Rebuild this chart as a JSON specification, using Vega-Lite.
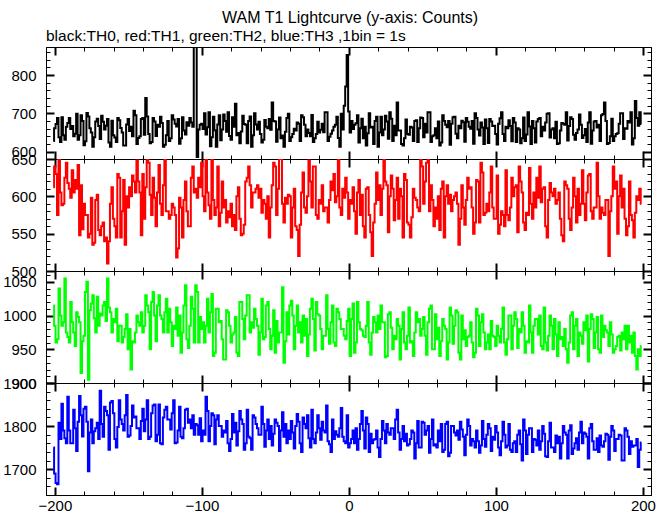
{
"$schema": "https://vega.github.io/schema/vega-lite/v6.json",
"background": "white",
"padding": {"left": 2, "top": 9, "right": 15, "bottom": 0},
"title": {"text": "WAM T1 Lightcurve (y-axis: Counts)", "anchor": "middle", "font": "Liberation Sans", "fontSize": 16, "fontWeight": "normal", "color": "black", "offset": 3, "dx": 21},
"spacing": 0,
"bounds": "flush",
"config": {"view": {"stroke": "black", "strokeWidth": 1}, "axis": {"labelFont": "Liberation Sans", "labelFontSize": 15, "labelColor": "black", "domainColor": "black", "tickColor": "black", "grid": false, "labelFlush": false, "labelOverlap": false, "format": "d"}},
"data": {"name": "lc"},
"datasets": {"lc": [
{"t":-201,"a":628,"b":612,"c":1015,"d":1750},{"t":-200,"a":661,"b":640,"c":985,"d":1690},{"t":-199,"a":672,"b":630,"c":960,"d":1668},{"t":-198,"a":688,"b":575,"c":965,"d":1665},{"t":-197,"a":638,"b":655,"c":1040,"d":1808},{"t":-196,"a":625,"b":605,"c":1000,"d":1770},{"t":-195,"a":690,"b":588,"c":985,"d":1852},{"t":-194,"a":643,"b":590,"c":990,"d":1790},{"t":-193,"a":631,"b":625,"c":1055,"d":1772},{"t":-192,"a":665,"b":645,"c":975,"d":1760},
{"t":-191,"a":675,"b":618,"c":968,"d":1868},{"t":-190,"a":688,"b":610,"c":960,"d":1790},{"t":-189,"a":659,"b":598,"c":1020,"d":1760},{"t":-188,"a":667,"b":635,"c":990,"d":1760},{"t":-187,"a":640,"b":605,"c":975,"d":1838},{"t":-186,"a":647,"b":622,"c":955,"d":1795},{"t":-185,"a":699,"b":610,"c":1005,"d":1742},{"t":-184,"a":631,"b":642,"c":998,"d":1810},{"t":-183,"a":643,"b":548,"c":990,"d":1870},{"t":-182,"a":695,"b":615,"c":915,"d":1825},
{"t":-181,"a":680,"b":556,"c":962,"d":1776},{"t":-180,"a":617,"b":590,"c":970,"d":1840},{"t":-179,"a":627,"b":575,"c":1035,"d":1845},{"t":-178,"a":701,"b":575,"c":1050,"d":1810},{"t":-177,"a":692,"b":545,"c":905,"d":1695},{"t":-176,"a":661,"b":550,"c":1008,"d":1785},{"t":-175,"a":650,"b":598,"c":1018,"d":1815},{"t":-174,"a":613,"b":535,"c":1030,"d":1760},{"t":-173,"a":638,"b":538,"c":996,"d":1788},{"t":-172,"a":679,"b":595,"c":975,"d":1795},
{"t":-171,"a":686,"b":602,"c":1028,"d":1808},{"t":-170,"a":667,"b":555,"c":985,"d":1770},{"t":-169,"a":633,"b":548,"c":1003,"d":1882},{"t":-168,"a":694,"b":560,"c":1000,"d":1805},{"t":-167,"a":678,"b":565,"c":1015,"d":1775},{"t":-166,"a":658,"b":540,"c":1020,"d":1845},{"t":-165,"a":668,"b":545,"c":992,"d":1835},{"t":-164,"a":685,"b":510,"c":1055,"d":1825},{"t":-163,"a":624,"b":540,"c":1012,"d":1745},{"t":-162,"a":613,"b":590,"c":1005,"d":1855},
{"t":-161,"a":681,"b":612,"c":975,"d":1858},{"t":-160,"a":643,"b":570,"c":995,"d":1830},{"t":-159,"a":637,"b":560,"c":990,"d":1770},{"t":-158,"a":625,"b":545,"c":1010,"d":1750},{"t":-157,"a":688,"b":630,"c":962,"d":1798},{"t":-156,"a":682,"b":625,"c":985,"d":1860},{"t":-155,"a":662,"b":545,"c":985,"d":1815},{"t":-154,"a":650,"b":580,"c":960,"d":1805},{"t":-153,"a":616,"b":622,"c":968,"d":1790},{"t":-152,"a":616,"b":535,"c":980,"d":1825},
{"t":-151,"a":671,"b":600,"c":1002,"d":1872},{"t":-150,"a":685,"b":585,"c":950,"d":1775},{"t":-149,"a":654,"b":612,"c":980,"d":1778},{"t":-148,"a":665,"b":600,"c":920,"d":1800},{"t":-147,"a":640,"b":628,"c":962,"d":1848},{"t":-146,"a":707,"b":620,"c":960,"d":1820},{"t":-145,"a":695,"b":605,"c":975,"d":1822},{"t":-144,"a":620,"b":648,"c":1000,"d":1795},{"t":-143,"a":636,"b":620,"c":990,"d":1795},{"t":-142,"a":640,"b":605,"c":985,"d":1770},
{"t":-141,"a":685,"b":548,"c":1005,"d":1812},{"t":-140,"a":688,"b":630,"c":975,"d":1840},{"t":-139,"a":644,"b":570,"c":985,"d":1788},{"t":-138,"a":740,"b":612,"c":1030,"d":1815},{"t":-137,"a":692,"b":655,"c":1015,"d":1860},{"t":-136,"a":646,"b":645,"c":1005,"d":1770},{"t":-135,"a":622,"b":602,"c":950,"d":1775},{"t":-134,"a":625,"b":575,"c":1020,"d":1830},{"t":-133,"a":688,"b":625,"c":1035,"d":1848},{"t":-132,"a":679,"b":598,"c":1000,"d":1850},
{"t":-131,"a":641,"b":560,"c":962,"d":1765},{"t":-130,"a":670,"b":605,"c":1015,"d":1780},{"t":-129,"a":665,"b":642,"c":1030,"d":1850},{"t":-128,"a":691,"b":590,"c":1000,"d":1760},{"t":-127,"a":675,"b":575,"c":995,"d":1758},{"t":-126,"a":613,"b":615,"c":975,"d":1820},{"t":-125,"a":618,"b":650,"c":1005,"d":1838},{"t":-124,"a":643,"b":580,"c":1025,"d":1845},{"t":-123,"a":680,"b":580,"c":975,"d":1815},{"t":-122,"a":628,"b":570,"c":1010,"d":1815},
{"t":-121,"a":635,"b":575,"c":990,"d":1792},{"t":-120,"a":695,"b":590,"c":955,"d":1830},{"t":-119,"a":684,"b":585,"c":985,"d":1860},{"t":-118,"a":673,"b":575,"c":980,"d":1760},{"t":-117,"a":666,"b":518,"c":1012,"d":1762},{"t":-116,"a":685,"b":530,"c":970,"d":1790},{"t":-115,"a":621,"b":598,"c":1000,"d":1845},{"t":-114,"a":635,"b":585,"c":945,"d":1775},{"t":-113,"a":690,"b":545,"c":975,"d":1772},{"t":-112,"a":655,"b":595,"c":1015,"d":1795},
{"t":-111,"a":645,"b":620,"c":1045,"d":1838},{"t":-110,"a":677,"b":580,"c":965,"d":1840},{"t":-109,"a":668,"b":560,"c":952,"d":1808},{"t":-108,"a":688,"b":560,"c":985,"d":1815},{"t":-107,"a":676,"b":625,"c":1028,"d":1795},{"t":-106,"a":665,"b":640,"c":1010,"d":1825},{"t":-105,"a":885,"b":605,"c":960,"d":1780},{"t":-104,"a":878,"b":610,"c":1045,"d":1805},{"t":-103,"a":586,"b":598,"c":1035,"d":1802},{"t":-102,"a":658,"b":625,"c":960,"d":1780},
{"t":-101,"a":670,"b":612,"c":998,"d":1818},{"t":-100,"a":673,"b":645,"c":980,"d":1765},{"t":-99,"a":659,"b":600,"c":990,"d":1790},{"t":-98,"a":700,"b":580,"c":960,"d":1780},{"t":-97,"a":645,"b":655,"c":985,"d":1868},{"t":-96,"a":664,"b":605,"c":1025,"d":1835},{"t":-95,"a":703,"b":588,"c":975,"d":1765},{"t":-94,"a":614,"b":570,"c":1005,"d":1800},{"t":-93,"a":638,"b":652,"c":1032,"d":1830},{"t":-92,"a":691,"b":595,"c":940,"d":1825},
{"t":-91,"a":656,"b":575,"c":945,"d":1758},{"t":-90,"a":613,"b":585,"c":1010,"d":1815},{"t":-89,"a":671,"b":640,"c":1010,"d":1825},{"t":-88,"a":695,"b":560,"c":990,"d":1800},{"t":-87,"a":630,"b":578,"c":992,"d":1800},{"t":-86,"a":658,"b":620,"c":965,"d":1775},{"t":-85,"a":697,"b":585,"c":935,"d":1790},{"t":-84,"a":680,"b":595,"c":935,"d":1785},{"t":-83,"a":652,"b":565,"c":1008,"d":1812},{"t":-82,"a":703,"b":580,"c":1005,"d":1760},
{"t":-81,"a":641,"b":572,"c":985,"d":1742},{"t":-80,"a":631,"b":590,"c":960,"d":1770},{"t":-79,"a":690,"b":560,"c":972,"d":1828},{"t":-78,"a":665,"b":575,"c":975,"d":1785},{"t":-77,"a":725,"b":555,"c":998,"d":1808},{"t":-76,"a":643,"b":600,"c":945,"d":1755},{"t":-75,"a":649,"b":612,"c":940,"d":1788},{"t":-74,"a":622,"b":570,"c":1020,"d":1835},{"t":-73,"a":653,"b":548,"c":1020,"d":1815},{"t":-72,"a":694,"b":550,"c":995,"d":1805},
{"t":-71,"a":672,"b":562,"c":965,"d":1745},{"t":-70,"a":670,"b":620,"c":1000,"d":1760},{"t":-69,"a":622,"b":625,"c":1030,"d":1838},{"t":-68,"a":680,"b":640,"c":1030,"d":1775},{"t":-67,"a":692,"b":615,"c":975,"d":1772},{"t":-66,"a":613,"b":585,"c":990,"d":1745},{"t":-65,"a":643,"b":605,"c":982,"d":1825},{"t":-64,"a":700,"b":605,"c":1010,"d":1820},{"t":-63,"a":671,"b":610,"c":995,"d":1805},{"t":-62,"a":658,"b":615,"c":985,"d":1795},
{"t":-61,"a":678,"b":598,"c":942,"d":1780},{"t":-60,"a":646,"b":610,"c":975,"d":1780},{"t":-59,"a":624,"b":578,"c":1025,"d":1845},{"t":-58,"a":631,"b":595,"c":965,"d":1805},{"t":-57,"a":683,"b":590,"c":968,"d":1752},{"t":-56,"a":665,"b":570,"c":1015,"d":1790},{"t":-55,"a":661,"b":600,"c":1020,"d":1815},{"t":-54,"a":685,"b":545,"c":980,"d":1770},{"t":-53,"a":657,"b":585,"c":950,"d":1800},{"t":-52,"a":728,"b":615,"c":970,"d":1755},
{"t":-51,"a":680,"b":645,"c":1008,"d":1782},{"t":-50,"a":679,"b":640,"c":945,"d":1815},{"t":-49,"a":626,"b":575,"c":992,"d":1808},{"t":-48,"a":658,"b":610,"c":960,"d":1800},{"t":-47,"a":689,"b":650,"c":975,"d":1742},{"t":-46,"a":635,"b":650,"c":975,"d":1790},{"t":-45,"a":642,"b":590,"c":1042,"d":1832},{"t":-44,"a":613,"b":565,"c":930,"d":1775},{"t":-43,"a":652,"b":598,"c":962,"d":1805},{"t":-42,"a":688,"b":590,"c":1005,"d":1760},
{"t":-41,"a":699,"b":602,"c":972,"d":1790},{"t":-40,"a":628,"b":600,"c":1015,"d":1770},{"t":-39,"a":638,"b":545,"c":1022,"d":1812},{"t":-38,"a":646,"b":585,"c":1000,"d":1785},{"t":-37,"a":660,"b":610,"c":950,"d":1748},{"t":-36,"a":655,"b":560,"c":985,"d":1800},{"t":-35,"a":676,"b":555,"c":1015,"d":1828},{"t":-34,"a":673,"b":520,"c":975,"d":1810},{"t":-33,"a":628,"b":562,"c":990,"d":1760},{"t":-32,"a":695,"b":605,"c":960,"d":1740},
{"t":-31,"a":690,"b":632,"c":1000,"d":1820},{"t":-30,"a":670,"b":585,"c":970,"d":1805},{"t":-29,"a":640,"b":578,"c":995,"d":1795},{"t":-28,"a":658,"b":600,"c":940,"d":1825},{"t":-27,"a":649,"b":648,"c":972,"d":1772},{"t":-26,"a":640,"b":620,"c":1010,"d":1750},{"t":-25,"a":696,"b":585,"c":1025,"d":1838},{"t":-24,"a":625,"b":640,"c":995,"d":1770},{"t":-23,"a":635,"b":640,"c":948,"d":1760},{"t":-22,"a":646,"b":575,"c":1020,"d":1785},
{"t":-21,"a":678,"b":570,"c":1002,"d":1825},{"t":-20,"a":650,"b":595,"c":1000,"d":1795},{"t":-19,"a":657,"b":590,"c":980,"d":1768},{"t":-18,"a":673,"b":615,"c":950,"d":1810},{"t":-17,"a":651,"b":580,"c":970,"d":1790},{"t":-16,"a":703,"b":585,"c":970,"d":1785},{"t":-15,"a":703,"b":585,"c":1030,"d":1848},{"t":-14,"a":628,"b":565,"c":980,"d":1765},{"t":-13,"a":639,"b":595,"c":958,"d":1758},{"t":-12,"a":647,"b":620,"c":990,"d":1740},
{"t":-11,"a":655,"b":608,"c":1015,"d":1815},{"t":-10,"a":665,"b":630,"c":960,"d":1770},{"t":-9,"a":670,"b":592,"c":955,"d":1788},{"t":-8,"a":691,"b":600,"c":1010,"d":1780},{"t":-7,"a":636,"b":650,"c":1005,"d":1775},{"t":-6,"a":613,"b":585,"c":995,"d":1795},{"t":-5,"a":699,"b":575,"c":980,"d":1842},{"t":-4,"a":658,"b":610,"c":980,"d":1775},{"t":-3,"a":720,"b":598,"c":970,"d":1765},{"t":-2,"a":770,"b":625,"c":965,"d":1760},
{"t":-1,"a":852,"b":605,"c":992,"d":1825},{"t":0,"a":705,"b":570,"c":1010,"d":1750},{"t":1,"a":650,"b":595,"c":940,"d":1760},{"t":2,"a":680,"b":590,"c":995,"d":1770},{"t":3,"a":659,"b":612,"c":1018,"d":1790},{"t":4,"a":670,"b":580,"c":945,"d":1760},{"t":5,"a":674,"b":550,"c":960,"d":1795},{"t":6,"a":695,"b":605,"c":1020,"d":1745},{"t":7,"a":624,"b":622,"c":990,"d":1770},{"t":8,"a":661,"b":575,"c":980,"d":1805},
{"t":9,"a":686,"b":602,"c":978,"d":1835},{"t":10,"a":635,"b":560,"c":970,"d":1790},{"t":11,"a":665,"b":545,"c":968,"d":1748},{"t":12,"a":616,"b":610,"c":985,"d":1820},{"t":13,"a":648,"b":612,"c":1020,"d":1805},{"t":14,"a":700,"b":575,"c":960,"d":1740},{"t":15,"a":663,"b":552,"c":942,"d":1782},{"t":16,"a":665,"b":520,"c":975,"d":1760},{"t":17,"a":620,"b":565,"c":998,"d":1768},{"t":18,"a":680,"b":590,"c":990,"d":1770},
{"t":19,"a":691,"b":632,"c":975,"d":1790},{"t":20,"a":613,"b":595,"c":1000,"d":1750},{"t":21,"a":650,"b":615,"c":980,"d":1728},{"t":22,"a":691,"b":575,"c":1015,"d":1770},{"t":23,"a":643,"b":610,"c":990,"d":1812},{"t":24,"a":658,"b":650,"c":990,"d":1790},{"t":25,"a":694,"b":620,"c":938,"d":1760},{"t":26,"a":679,"b":615,"c":940,"d":1805},{"t":27,"a":634,"b":552,"c":1002,"d":1785},{"t":28,"a":703,"b":600,"c":1005,"d":1780},
{"t":29,"a":686,"b":628,"c":982,"d":1795},{"t":30,"a":628,"b":610,"c":950,"d":1795},{"t":31,"a":668,"b":568,"c":970,"d":1770},{"t":32,"a":643,"b":595,"c":965,"d":1815},{"t":33,"a":728,"b":625,"c":995,"d":1838},{"t":34,"a":655,"b":570,"c":985,"d":1785},{"t":35,"a":655,"b":610,"c":935,"d":1745},{"t":36,"a":620,"b":600,"c":980,"d":1770},{"t":37,"a":616,"b":545,"c":1005,"d":1800},{"t":38,"a":635,"b":630,"c":960,"d":1765},
{"t":39,"a":684,"b":622,"c":950,"d":1782},{"t":40,"a":646,"b":565,"c":970,"d":1755},{"t":41,"a":644,"b":562,"c":1012,"d":1758},{"t":42,"a":665,"b":545,"c":960,"d":1770},{"t":43,"a":663,"b":572,"c":962,"d":1790},{"t":44,"a":628,"b":610,"c":940,"d":1785},{"t":45,"a":680,"b":598,"c":975,"d":1725},{"t":46,"a":682,"b":595,"c":1005,"d":1760},{"t":47,"a":625,"b":585,"c":990,"d":1812},{"t":48,"a":661,"b":580,"c":995,"d":1750},
{"t":49,"a":689,"b":650,"c":970,"d":1750},{"t":50,"a":688,"b":640,"c":980,"d":1810},{"t":51,"a":638,"b":590,"c":998,"d":1808},{"t":52,"a":673,"b":620,"c":970,"d":1780},{"t":53,"a":650,"b":645,"c":942,"d":1790},{"t":54,"a":703,"b":650,"c":990,"d":1800},{"t":55,"a":703,"b":580,"c":1010,"d":1738},{"t":56,"a":625,"b":615,"c":1015,"d":1770},{"t":57,"a":640,"b":595,"c":950,"d":1815},{"t":58,"a":643,"b":560,"c":950,"d":1755},
{"t":59,"a":661,"b":585,"c":1002,"d":1758},{"t":60,"a":635,"b":570,"c":965,"d":1750},{"t":61,"a":679,"b":600,"c":982,"d":1790},{"t":62,"a":616,"b":555,"c":940,"d":1765},{"t":63,"a":624,"b":610,"c":962,"d":1805},{"t":64,"a":695,"b":620,"c":995,"d":1740},{"t":65,"a":680,"b":545,"c":985,"d":1745},{"t":66,"a":670,"b":600,"c":980,"d":1805},{"t":67,"a":664,"b":615,"c":935,"d":1810},{"t":68,"a":680,"b":590,"c":960,"d":1730},
{"t":69,"a":618,"b":602,"c":1012,"d":1738},{"t":70,"a":673,"b":580,"c":1000,"d":1800},{"t":71,"a":690,"b":595,"c":958,"d":1800},{"t":72,"a":691,"b":600,"c":985,"d":1785},{"t":73,"a":647,"b":605,"c":1008,"d":1778},{"t":74,"a":635,"b":590,"c":1005,"d":1790},{"t":75,"a":668,"b":535,"c":945,"d":1768},{"t":76,"a":661,"b":570,"c":935,"d":1810},{"t":77,"a":681,"b":615,"c":1000,"d":1792},{"t":78,"a":677,"b":585,"c":965,"d":1775},
{"t":79,"a":626,"b":562,"c":978,"d":1732},{"t":80,"a":688,"b":595,"c":955,"d":1780},{"t":81,"a":678,"b":625,"c":968,"d":1815},{"t":82,"a":665,"b":610,"c":970,"d":1800},{"t":83,"a":660,"b":612,"c":990,"d":1755},{"t":84,"a":680,"b":585,"c":960,"d":1770},{"t":85,"a":621,"b":550,"c":938,"d":1765},{"t":86,"a":700,"b":565,"c":945,"d":1750},{"t":87,"a":688,"b":622,"c":1010,"d":1790},{"t":88,"a":658,"b":620,"c":1000,"d":1765},
{"t":89,"a":642,"b":565,"c":955,"d":1738},{"t":90,"a":676,"b":645,"c":990,"d":1755},{"t":91,"a":663,"b":632,"c":1002,"d":1812},{"t":92,"a":620,"b":575,"c":975,"d":1770},{"t":93,"a":684,"b":578,"c":950,"d":1752},{"t":94,"a":661,"b":590,"c":960,"d":1780},{"t":95,"a":623,"b":580,"c":972,"d":1805},{"t":96,"a":685,"b":605,"c":950,"d":1795},{"t":97,"a":679,"b":640,"c":992,"d":1742},{"t":98,"a":667,"b":585,"c":970,"d":1775},
{"t":99,"a":668,"b":570,"c":968,"d":1768},{"t":100,"a":646,"b":570,"c":955,"d":1800},{"t":101,"a":619,"b":628,"c":985,"d":1785},{"t":102,"a":673,"b":550,"c":970,"d":1750},{"t":103,"a":687,"b":562,"c":960,"d":1732},{"t":104,"a":703,"b":580,"c":980,"d":1765},{"t":105,"a":646,"b":575,"c":1012,"d":1810},{"t":106,"a":628,"b":560,"c":960,"d":1780},{"t":107,"a":665,"b":635,"c":942,"d":1750},{"t":108,"a":661,"b":575,"c":965,"d":1755},
{"t":109,"a":682,"b":568,"c":1000,"d":1805},{"t":110,"a":667,"b":585,"c":1000,"d":1745},{"t":111,"a":627,"b":625,"c":950,"d":1740},{"t":112,"a":688,"b":600,"c":985,"d":1760},{"t":113,"a":676,"b":612,"c":1005,"d":1765},{"t":114,"a":625,"b":615,"c":995,"d":1740},{"t":115,"a":661,"b":552,"c":952,"d":1780},{"t":116,"a":658,"b":640,"c":980,"d":1790},{"t":117,"a":622,"b":620,"c":975,"d":1758},{"t":118,"a":635,"b":605,"c":1005,"d":1720},
{"t":119,"a":689,"b":565,"c":985,"d":1815},{"t":120,"a":628,"b":555,"c":945,"d":1790},{"t":121,"a":645,"b":578,"c":962,"d":1735},{"t":122,"a":703,"b":575,"c":960,"d":1780},{"t":123,"a":666,"b":638,"c":1015,"d":1795},{"t":124,"a":620,"b":590,"c":975,"d":1795},{"t":125,"a":680,"b":570,"c":945,"d":1740},{"t":126,"a":661,"b":605,"c":985,"d":1770},{"t":127,"a":624,"b":585,"c":995,"d":1768},{"t":128,"a":679,"b":625,"c":995,"d":1755},
{"t":129,"a":685,"b":598,"c":972,"d":1790},{"t":130,"a":688,"b":640,"c":1000,"d":1745},{"t":131,"a":640,"b":592,"c":955,"d":1765},{"t":132,"a":665,"b":610,"c":950,"d":1800},{"t":133,"a":655,"b":612,"c":1012,"d":1782},{"t":134,"a":676,"b":560,"c":960,"d":1730},{"t":135,"a":699,"b":545,"c":948,"d":1728},{"t":136,"a":700,"b":595,"c":970,"d":1765},{"t":137,"a":637,"b":618,"c":1000,"d":1808},{"t":138,"a":658,"b":605,"c":985,"d":1750},
{"t":139,"a":661,"b":600,"c":950,"d":1750},{"t":140,"a":635,"b":610,"c":995,"d":1740},{"t":141,"a":678,"b":590,"c":972,"d":1778},{"t":142,"a":620,"b":595,"c":940,"d":1760},{"t":143,"a":622,"b":605,"c":990,"d":1775},{"t":144,"a":655,"b":570,"c":965,"d":1725},{"t":145,"a":675,"b":548,"c":968,"d":1760},{"t":146,"a":673,"b":540,"c":955,"d":1800},{"t":147,"a":670,"b":620,"c":980,"d":1785},{"t":148,"a":703,"b":615,"c":950,"d":1780},
{"t":149,"a":629,"b":610,"c":930,"d":1725},{"t":150,"a":667,"b":570,"c":960,"d":1790},{"t":151,"a":690,"b":555,"c":1000,"d":1802},{"t":152,"a":685,"b":585,"c":1005,"d":1735},{"t":153,"a":644,"b":625,"c":950,"d":1748},{"t":154,"a":631,"b":600,"c":985,"d":1760},{"t":155,"a":649,"b":565,"c":995,"d":1772},{"t":156,"a":658,"b":610,"c":940,"d":1745},{"t":157,"a":697,"b":575,"c":975,"d":1785},{"t":158,"a":670,"b":590,"c":970,"d":1810},
{"t":159,"a":636,"b":635,"c":958,"d":1760},{"t":160,"a":643,"b":590,"c":990,"d":1785},{"t":161,"a":659,"b":568,"c":978,"d":1782},{"t":162,"a":625,"b":605,"c":1000,"d":1775},{"t":163,"a":676,"b":628,"c":932,"d":1725},{"t":164,"a":703,"b":630,"c":980,"d":1795},{"t":165,"a":621,"b":580,"c":1002,"d":1805},{"t":166,"a":655,"b":570,"c":995,"d":1765},{"t":167,"a":679,"b":585,"c":952,"d":1745},{"t":168,"a":680,"b":585,"c":975,"d":1745},
{"t":169,"a":663,"b":645,"c":998,"d":1772},{"t":170,"a":670,"b":600,"c":950,"d":1740},{"t":171,"a":628,"b":570,"c":945,"d":1778},{"t":172,"a":695,"b":585,"c":1000,"d":1755},{"t":173,"a":698,"b":578,"c":968,"d":1752},{"t":174,"a":728,"b":575,"c":985,"d":1765},{"t":175,"a":680,"b":595,"c":978,"d":1782},{"t":176,"a":620,"b":595,"c":975,"d":1780},{"t":177,"a":623,"b":520,"c":955,"d":1722},{"t":178,"a":640,"b":580,"c":990,"d":1775},
{"t":179,"a":686,"b":600,"c":972,"d":1800},{"t":180,"a":628,"b":640,"c":945,"d":1790},{"t":181,"a":640,"b":610,"c":950,"d":1742},{"t":182,"a":646,"b":620,"c":955,"d":1770},{"t":183,"a":648,"b":550,"c":968,"d":1770},{"t":184,"a":673,"b":600,"c":970,"d":1780},{"t":185,"a":700,"b":628,"c":948,"d":1778},{"t":186,"a":700,"b":585,"c":975,"d":1720},{"t":187,"a":633,"b":610,"c":965,"d":1720},{"t":188,"a":661,"b":570,"c":985,"d":1795},
{"t":189,"a":660,"b":548,"c":950,"d":1790},{"t":190,"a":680,"b":560,"c":985,"d":1775},{"t":191,"a":676,"b":620,"c":960,"d":1735},{"t":192,"a":703,"b":575,"c":970,"d":1765},{"t":193,"a":619,"b":568,"c":945,"d":1752},{"t":194,"a":635,"b":545,"c":975,"d":1755},{"t":195,"a":732,"b":578,"c":940,"d":1755},{"t":196,"a":688,"b":600,"c":920,"d":1770},{"t":197,"a":668,"b":595,"c":950,"d":1705},{"t":198,"a":703,"b":610,"c":940,"d":1745},
{"t":199,"a":672,"b":590,"c":955,"d":1762}
]},
"vconcat": [
{
"width": 605, "height": 112,
"title": {"text": "black:TH0, red:TH1, green:TH2, blue:TH3 ,1bin = 1s", "anchor": "start", "frame": "group", "font": "Liberation Sans", "fontSize": 15.5, "fontWeight": "normal", "color": "black", "offset": 0},
"layer": [
{"mark": {"type": "line", "color": "#000000", "strokeWidth": 2, "interpolate": "step", "clip": true},
"encoding": {
"x": {"field": "t", "type": "quantitative", "scale": {"domain": [-206, 205.5], "nice": false, "zero": false}, "axis": {"orient": "bottom", "title": null, "values": [-200,-180,-160,-140,-120,-100,-80,-60,-40,-20,0,20,40,60,80,100,120,140,160,180,200], "tickSize": {"condition": {"test": "datum.value % 100 === 0", "value": -8}, "value": -4}, "tickWidth": {"condition": {"test": "datum.value % 100 === 0", "value": 2}, "value": 1}, "labels": false}},
"y": {"field": "a", "type": "quantitative", "scale": {"domain": [581, 873], "nice": false, "zero": false}, "axis": {"orient": "left", "title": null, "values": [600,620,640,660,680,700,720,740,760,780,800,820,840,860], "tickSize": {"condition": {"test": "datum.value % 100 === 0", "value": -8}, "value": -4}, "tickWidth": {"condition": {"test": "datum.value % 100 === 0", "value": 2}, "value": 1}, "labelExpr": "datum.value % 100 === 0 ? datum.label : ''", "labelPadding": 18}}
}},
{"mark": {"type": "line", "strokeOpacity": 0, "interpolate": "step", "clip": true},
"encoding": {
"x": {"field": "t", "type": "quantitative", "axis": {"orient": "top", "title": null, "values": [-200,-180,-160,-140,-120,-100,-80,-60,-40,-20,0,20,40,60,80,100,120,140,160,180,200], "tickSize": {"condition": {"test": "datum.value % 100 === 0", "value": -8}, "value": -4}, "tickWidth": {"condition": {"test": "datum.value % 100 === 0", "value": 2}, "value": 1}, "labels": false}},
"y": {"field": "a", "type": "quantitative", "axis": {"orient": "right", "title": null, "values": [600,620,640,660,680,700,720,740,760,780,800,820,840,860], "tickSize": {"condition": {"test": "datum.value % 100 === 0", "value": -8}, "value": -4}, "tickWidth": {"condition": {"test": "datum.value % 100 === 0", "value": 2}, "value": 1}, "labels": false}}
}}
],
"resolve": {"axis": {"x": "independent", "y": "independent"}}
},
{
"width": 605, "height": 112,
"layer": [
{"mark": {"type": "line", "color": "#ff0000", "strokeWidth": 2, "interpolate": "step", "clip": true},
"encoding": {
"x": {"field": "t", "type": "quantitative", "scale": {"domain": [-206, 205.5], "nice": false, "zero": false}, "axis": {"orient": "bottom", "title": null, "values": [-200,-180,-160,-140,-120,-100,-80,-60,-40,-20,0,20,40,60,80,100,120,140,160,180,200], "tickSize": {"condition": {"test": "datum.value % 100 === 0", "value": -8}, "value": -4}, "tickWidth": {"condition": {"test": "datum.value % 100 === 0", "value": 2}, "value": 1}, "labels": false}},
"y": {"field": "b", "type": "quantitative", "scale": {"domain": [500, 650], "nice": false, "zero": false}, "axis": {"orient": "left", "title": null, "values": [500,510,520,530,540,550,560,570,580,590,600,610,620,630,640,650], "tickSize": {"condition": {"test": "datum.value % 50 === 0", "value": -8}, "value": -4}, "tickWidth": {"condition": {"test": "datum.value % 50 === 0", "value": 2}, "value": 1}, "labelExpr": "datum.value % 50 === 0 ? datum.label : ''", "labelPadding": 18}}
}},
{"mark": {"type": "line", "strokeOpacity": 0, "interpolate": "step", "clip": true},
"encoding": {
"x": {"field": "t", "type": "quantitative", "axis": {"orient": "top", "title": null, "values": [-200,-180,-160,-140,-120,-100,-80,-60,-40,-20,0,20,40,60,80,100,120,140,160,180,200], "tickSize": {"condition": {"test": "datum.value % 100 === 0", "value": -8}, "value": -4}, "tickWidth": {"condition": {"test": "datum.value % 100 === 0", "value": 2}, "value": 1}, "labels": false}},
"y": {"field": "b", "type": "quantitative", "axis": {"orient": "right", "title": null, "values": [500,510,520,530,540,550,560,570,580,590,600,610,620,630,640,650], "tickSize": {"condition": {"test": "datum.value % 50 === 0", "value": -8}, "value": -4}, "tickWidth": {"condition": {"test": "datum.value % 50 === 0", "value": 2}, "value": 1}, "labels": false}}
}}
],
"resolve": {"axis": {"x": "independent", "y": "independent"}}
},
{
"width": 605, "height": 112,
"layer": [
{"mark": {"type": "line", "color": "#00ff00", "strokeWidth": 2, "interpolate": "step", "clip": true},
"encoding": {
"x": {"field": "t", "type": "quantitative", "scale": {"domain": [-206, 205.5], "nice": false, "zero": false}, "axis": {"orient": "bottom", "title": null, "values": [-200,-180,-160,-140,-120,-100,-80,-60,-40,-20,0,20,40,60,80,100,120,140,160,180,200], "tickSize": {"condition": {"test": "datum.value % 100 === 0", "value": -8}, "value": -4}, "tickWidth": {"condition": {"test": "datum.value % 100 === 0", "value": 2}, "value": 1}, "labels": false}},
"y": {"field": "c", "type": "quantitative", "scale": {"domain": [900, 1066], "nice": false, "zero": false}, "axis": {"orient": "left", "title": null, "values": [900,910,920,930,940,950,960,970,980,990,1000,1010,1020,1030,1040,1050,1060], "tickSize": {"condition": {"test": "datum.value % 50 === 0", "value": -8}, "value": -4}, "tickWidth": {"condition": {"test": "datum.value % 50 === 0", "value": 2}, "value": 1}, "labelExpr": "datum.value % 50 === 0 ? datum.label : ''", "labelPadding": 18}}
}},
{"mark": {"type": "line", "strokeOpacity": 0, "interpolate": "step", "clip": true},
"encoding": {
"x": {"field": "t", "type": "quantitative", "axis": {"orient": "top", "title": null, "values": [-200,-180,-160,-140,-120,-100,-80,-60,-40,-20,0,20,40,60,80,100,120,140,160,180,200], "tickSize": {"condition": {"test": "datum.value % 100 === 0", "value": -8}, "value": -4}, "tickWidth": {"condition": {"test": "datum.value % 100 === 0", "value": 2}, "value": 1}, "labels": false}},
"y": {"field": "c", "type": "quantitative", "axis": {"orient": "right", "title": null, "values": [900,910,920,930,940,950,960,970,980,990,1000,1010,1020,1030,1040,1050,1060], "tickSize": {"condition": {"test": "datum.value % 50 === 0", "value": -8}, "value": -4}, "tickWidth": {"condition": {"test": "datum.value % 50 === 0", "value": 2}, "value": 1}, "labels": false}}
}}
],
"resolve": {"axis": {"x": "independent", "y": "independent"}}
},
{
"width": 605, "height": 112,
"layer": [
{"mark": {"type": "line", "color": "#0000ff", "strokeWidth": 2, "interpolate": "step", "clip": true},
"encoding": {
"x": {"field": "t", "type": "quantitative", "scale": {"domain": [-206, 205.5], "nice": false, "zero": false}, "axis": {"orient": "bottom", "title": null, "values": [-200,-180,-160,-140,-120,-100,-80,-60,-40,-20,0,20,40,60,80,100,120,140,160,180,200], "tickSize": {"condition": {"test": "datum.value % 100 === 0", "value": -8}, "value": -4}, "tickWidth": {"condition": {"test": "datum.value % 100 === 0", "value": 2}, "value": 1}, "labels": true, "labelExpr": "datum.value % 100 === 0 ? datum.label : ''", "labelPadding": 11}},
"y": {"field": "d", "type": "quantitative", "scale": {"domain": [1640, 1900], "nice": false, "zero": false}, "axis": {"orient": "left", "title": null, "values": [1640,1660,1680,1700,1720,1740,1760,1780,1800,1820,1840,1860,1880,1900], "tickSize": {"condition": {"test": "datum.value % 100 === 0", "value": -8}, "value": -4}, "tickWidth": {"condition": {"test": "datum.value % 100 === 0", "value": 2}, "value": 1}, "labelExpr": "datum.value % 100 === 0 ? datum.label : ''", "labelPadding": 18}}
}},
{"mark": {"type": "line", "strokeOpacity": 0, "interpolate": "step", "clip": true},
"encoding": {
"x": {"field": "t", "type": "quantitative", "axis": {"orient": "top", "title": null, "values": [-200,-180,-160,-140,-120,-100,-80,-60,-40,-20,0,20,40,60,80,100,120,140,160,180,200], "tickSize": {"condition": {"test": "datum.value % 100 === 0", "value": -8}, "value": -4}, "tickWidth": {"condition": {"test": "datum.value % 100 === 0", "value": 2}, "value": 1}, "labels": false}},
"y": {"field": "d", "type": "quantitative", "axis": {"orient": "right", "title": null, "values": [1640,1660,1680,1700,1720,1740,1760,1780,1800,1820,1840,1860,1880,1900], "tickSize": {"condition": {"test": "datum.value % 100 === 0", "value": -8}, "value": -4}, "tickWidth": {"condition": {"test": "datum.value % 100 === 0", "value": 2}, "value": 1}, "labels": false}}
}}
],
"resolve": {"axis": {"x": "independent", "y": "independent"}}
}
]
}
